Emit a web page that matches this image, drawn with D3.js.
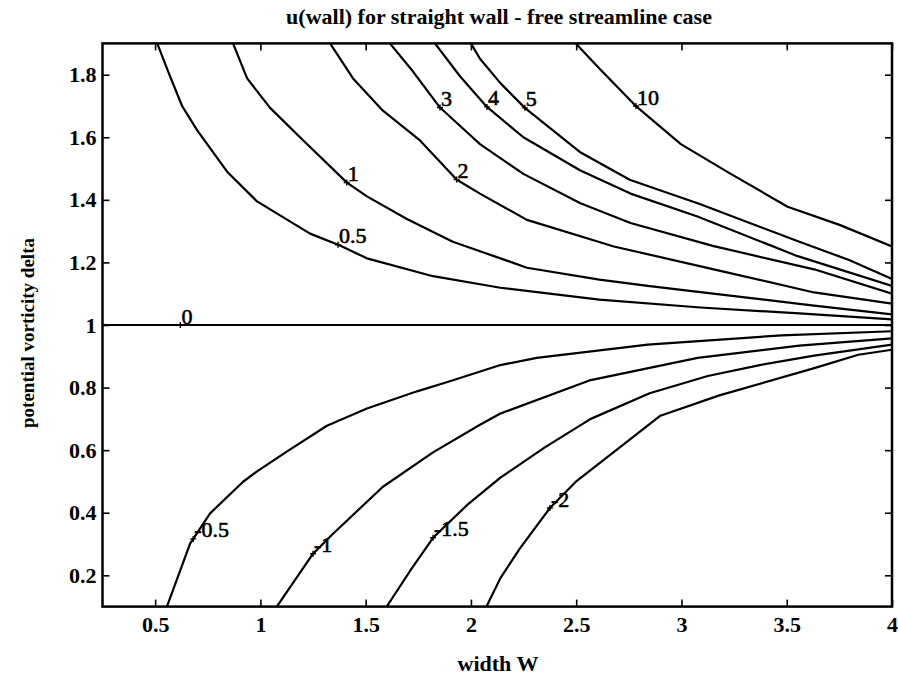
<!DOCTYPE html>
<html><head><meta charset="utf-8">
<script src="https://cdn.jsdelivr.net/npm/d3@7"></script>
<style>body{margin:0;background:#fff} svg{display:block}</style>
</head><body>
<svg id="chart" width="898" height="684"></svg>
<script>
// ---- data ----
const xTicks = [0.5, 1, 1.5, 2, 2.5, 3, 3.5, 4];
const xTickLabels = ["0.5", "1", "1.5", "2", "2.5", "3", "3.5", "4"];
const yTicks = [0.2, 0.4, 0.6, 0.8, 1, 1.2, 1.4, 1.6, 1.8];
const yTickLabels = ["0.2", "0.4", "0.6", "0.8", "1", "1.2", "1.4", "1.6", "1.8"];

const contourLabels = ["10", "5", "4", "3", "2", "1", "0.5", "0", "-0.5", "-1", "-1.5", "-2"];
const labelW = [2.784, 2.256, 2.076, 1.853, 1.932, 1.41, 1.369, 0.62, 0.681, 1.25, 1.82, 2.375];

const w_10 = [2.498, 2.61, 2.788, 2.997, 3.234, 3.504, 3.751, 4.0];
const d_10 = [1.9, 1.82, 1.697, 1.578, 1.483, 1.378, 1.32, 1.251];
const w_5 = [2.0, 2.043, 2.14, 2.256, 2.517, 2.754, 3.09, 3.324, 3.56, 3.799, 4.0];
const d_5 = [1.9, 1.851, 1.773, 1.694, 1.553, 1.464, 1.386, 1.326, 1.266, 1.207, 1.147];
const w_4 = [1.829, 1.948, 2.076, 2.249, 2.52, 2.758, 3.076, 3.552, 4.0];
const d_4 = [1.9, 1.795, 1.697, 1.6, 1.494, 1.42, 1.347, 1.22, 1.125];
const w_3 = [1.615, 1.725, 1.853, 1.98, 2.043, 2.249, 2.52, 2.758, 3.153, 3.63, 4.0];
const d_3 = [1.9, 1.81, 1.695, 1.617, 1.578, 1.483, 1.389, 1.326, 1.252, 1.178, 1.10];
const w_2 = [1.331, 1.44, 1.582, 1.758, 1.933, 2.043, 2.266, 2.679, 3.153, 3.63, 4.0];
const d_2 = [1.9, 1.788, 1.685, 1.59, 1.464, 1.42, 1.336, 1.251, 1.178, 1.104, 1.068];
const w_1 = [0.87, 0.937, 1.046, 1.188, 1.411, 1.506, 1.696, 1.914, 2.14, 2.266, 2.61, 2.84, 3.09, 3.63, 4.0];
const d_1 = [1.9, 1.788, 1.694, 1.6, 1.455, 1.411, 1.339, 1.266, 1.213, 1.183, 1.145, 1.125, 1.105, 1.062, 1.034];
const w_05 = [0.51, 0.562, 0.628, 0.70, 0.842, 0.984, 1.236, 1.378, 1.506, 1.82, 2.14, 2.61, 3.09, 3.56, 4.0];
const d_05 = [1.9, 1.81, 1.70, 1.622, 1.49, 1.395, 1.292, 1.254, 1.213, 1.156, 1.119, 1.081, 1.056, 1.037, 1.018];
const w_0 = [0.25, 4.0];
const d_0 = [1.0, 1.0];
const w_m05 = [0.556, 0.666, 0.761, 0.918, 0.984, 1.127, 1.316, 1.506, 1.744, 1.90, 2.14, 2.313, 2.84, 3.476, 4.0];
const d_m05 = [0.1, 0.301, 0.398, 0.499, 0.532, 0.596, 0.678, 0.733, 0.788, 0.82, 0.872, 0.895, 0.937, 0.967, 0.98];
const w_m1 = [1.078, 1.25, 1.345, 1.582, 1.82, 2.043, 2.14, 2.569, 3.077, 3.56, 4.0];
const d_m1 = [0.1, 0.269, 0.333, 0.483, 0.593, 0.681, 0.717, 0.824, 0.895, 0.934, 0.957];
const w_m15 = [1.60, 1.71, 1.82, 1.981, 2.14, 2.351, 2.569, 2.849, 3.125, 3.372, 3.63, 4.0];
const d_m15 = [0.1, 0.213, 0.32, 0.424, 0.512, 0.609, 0.70, 0.782, 0.837, 0.872, 0.902, 0.937];
const w_m2 = [2.074, 2.14, 2.232, 2.375, 2.503, 2.707, 2.90, 3.18, 3.635, 3.84, 4.0];
const d_m2 = [0.1, 0.191, 0.285, 0.415, 0.502, 0.609, 0.71, 0.775, 0.863, 0.905, 0.921];

const curvesW = [w_10, w_5, w_4, w_3, w_2, w_1, w_05, w_0, w_m05, w_m1, w_m15, w_m2];
const curvesD = [d_10, d_5, d_4, d_3, d_2, d_1, d_05, d_0, d_m05, d_m1, d_m15, d_m2];

// ---- layout ----
const L = 102.5, R = 892, T = 43.4, B = 606.6;
const FONT = "'Liberation Serif','Times New Roman',Times,serif";
const svg = d3.select("#chart");
const x = d3.scaleLinear().domain([0.25, 4]).range([L, R]);
const y = d3.scaleLinear().domain([0.1, 1.9]).range([B, T]);

svg.append("defs").append("clipPath").attr("id", "clip")
  .append("rect").attr("x", L).attr("y", T).attr("width", R - L).attr("height", B - T);

// contours
const line = d3.line().x(d => x(d[0])).y(d => y(d[1]));
const g = svg.append("g").attr("clip-path", "url(#clip)");
curvesW.forEach((ws, i) => {
  const pts = ws.map((w, j) => [w, curvesD[i][j]]);
  g.append("path").attr("d", line(pts)).attr("fill", "none")
    .attr("stroke", "#000").attr("stroke-width", 2.2).attr("stroke-linejoin", "round");
});

// labels with + markers
function interp(ws, ds, w) {
  for (let j = 0; j < ws.length - 1; j++) {
    if (w >= ws[j] && w <= ws[j + 1]) {
      const t = (w - ws[j]) / (ws[j + 1] - ws[j]);
      return ds[j] + t * (ds[j + 1] - ds[j]);
    }
  }
  return ds[ds.length - 1];
}
contourLabels.forEach((lab, i) => {
  const w = labelW[i];
  const d = interp(curvesW[i], curvesD[i], w);
  const px = x(w), py = y(d);
  svg.append("path")
    .attr("d", `M${px - 3},${py}h6M${px},${py - 3}v6`)
    .attr("stroke", "#000").attr("stroke-width", 1.4).attr("fill", "none");
  svg.append("text").attr("x", px + 1).attr("y", py - 1.5)
    .attr("font-family", FONT).attr("font-size", 22).attr("fill", "#000")
    .attr("stroke", "#000").attr("stroke-width", 0.6)
    .text(lab);
});

// axes
const tickStyle = sel => {
  sel.select(".domain").remove();
  sel.selectAll(".tick line").attr("stroke", "#000").attr("stroke-width", 1.6);
  sel.selectAll(".tick text").attr("font-family", FONT).attr("font-size", 22)
    .attr("font-weight", "bold").attr("fill", "#000");
};
svg.append("g").attr("transform", `translate(0,${B})`)
  .call(d3.axisBottom(x).tickValues(xTicks).tickSize(-7).tickPadding(10)
    .tickFormat((d, i) => xTickLabels[i])).call(tickStyle);
svg.append("g").attr("transform", `translate(0,${T})`)
  .call(d3.axisTop(x).tickValues(xTicks).tickSize(-7).tickFormat("")).call(tickStyle);
svg.append("g").attr("transform", `translate(${L},0)`)
  .call(d3.axisLeft(y).tickValues(yTicks).tickSize(-7).tickPadding(6)
    .tickFormat((d, i) => yTickLabels[i])).call(tickStyle);
svg.append("g").attr("transform", `translate(${R},0)`)
  .call(d3.axisRight(y).tickValues(yTicks).tickSize(-7).tickFormat("")).call(tickStyle);

svg.append("rect").attr("x", L).attr("y", T).attr("width", R - L).attr("height", B - T)
  .attr("fill", "none").attr("stroke", "#000").attr("stroke-width", 2.5);

// titles
svg.append("text").attr("x", 499).attr("y", 24).attr("text-anchor", "middle")
  .attr("font-family", FONT).attr("font-size", 22).attr("font-weight", "bold")
  .text("u(wall) for straight wall - free streamline case");
svg.append("text").attr("x", 498).attr("y", 671).attr("text-anchor", "middle")
  .attr("font-family", FONT).attr("font-size", 22).attr("font-weight", "bold")
  .text("width W");
svg.append("text").attr("transform", "translate(34,333) rotate(-90)").attr("text-anchor", "middle")
  .attr("font-family", FONT).attr("font-size", 19).attr("font-weight", "bold")
  .text("potential vorticity delta");
</script>
</body></html>
